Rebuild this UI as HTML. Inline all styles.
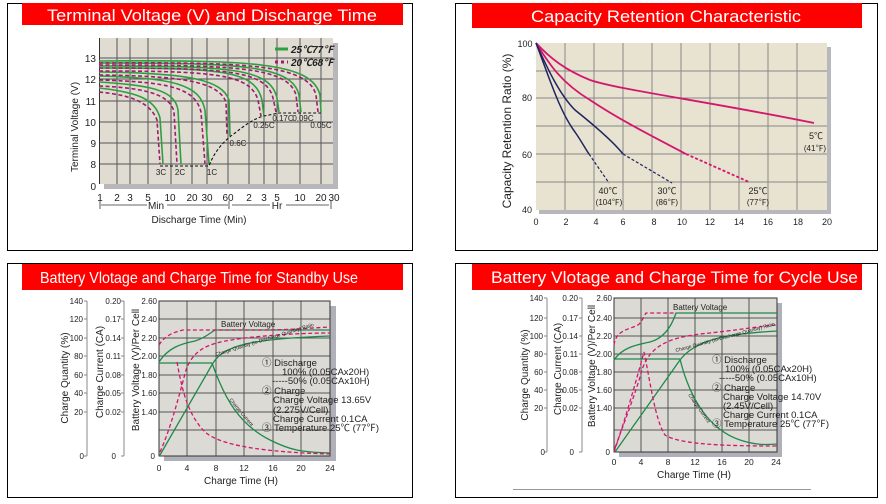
<!DOCTYPE html>
<html><head><meta charset="utf-8"><style>
html,body{margin:0;padding:0;background:#fff;}
svg{display:block;font-family:"Liberation Sans","Noto Sans CJK SC",sans-serif;}
</style></head><body>
<svg width="886" height="504" viewBox="0 0 886 504" xmlns="http://www.w3.org/2000/svg">
<rect width="886" height="504" fill="#fff"/>
<rect x="7.5" y="3.5" width="405" height="247" fill="none" stroke="#000"/>
<rect x="455.5" y="3.5" width="422" height="247" fill="none" stroke="#000"/>
<rect x="7.5" y="263.5" width="405" height="234" fill="none" stroke="#000"/>
<rect x="455.5" y="263.5" width="422" height="234" fill="none" stroke="#000"/>
<line x1="513" y1="489.5" x2="811" y2="489.5" stroke="#999"/>
<!-- Titles -->
<rect x="22" y="3" width="381" height="22" fill="#f00"/>
<text x="47" y="21" fill="#fff" font-size="17" textLength="330" lengthAdjust="spacingAndGlyphs">Terminal Voltage (V) and Discharge Time</text>
<rect x="472" y="3" width="390" height="25" fill="#f00"/>
<text x="531" y="22" fill="#fff" font-size="17" textLength="270" lengthAdjust="spacingAndGlyphs">Capacity Retention Characteristic</text>
<rect x="22" y="264" width="381" height="26" fill="#f00"/>
<text x="40" y="283" fill="#fff" font-size="16" textLength="318" lengthAdjust="spacingAndGlyphs">Battery Vlotage and Charge Time for Standby Use</text>
<rect x="472" y="264" width="390" height="26" fill="#f00"/>
<text x="491" y="283" fill="#fff" font-size="17" textLength="367" lengthAdjust="spacingAndGlyphs">Battery Vlotage and Charge Time for Cycle Use</text>

<!-- ============ Panel 1 ============ -->
<rect x="104" y="43" width="234" height="146" fill="#b8b8bc"/>
<rect x="99" y="38" width="234" height="146" fill="#e0dcd2"/>
<g stroke="#555" stroke-width="1">
<line x1="117" y1="38" x2="117" y2="184"/><line x1="130" y1="38" x2="130" y2="184"/><line x1="148" y1="38" x2="148" y2="184"/>
<line x1="171" y1="38" x2="171" y2="184"/><line x1="192" y1="38" x2="192" y2="184"/><line x1="207" y1="38" x2="207" y2="184"/>
<line x1="228" y1="38" x2="228" y2="184"/><line x1="249" y1="38" x2="249" y2="184"/><line x1="264" y1="38" x2="264" y2="184"/>
<line x1="277" y1="38" x2="277" y2="184"/><line x1="300" y1="38" x2="300" y2="184"/><line x1="321" y1="38" x2="321" y2="184"/>
<line x1="99" y1="58" x2="333" y2="58"/><line x1="99" y1="79" x2="333" y2="79"/><line x1="99" y1="101" x2="333" y2="101"/>
<line x1="99" y1="122" x2="333" y2="122"/><line x1="99" y1="143" x2="333" y2="143"/><line x1="99" y1="164" x2="333" y2="164"/>
</g>
<line x1="99.5" y1="38" x2="99.5" y2="184" stroke="#333"/>
<g font-size="10" fill="#222" text-anchor="end">
<text x="96" y="62">13</text><text x="96" y="83">12</text><text x="96" y="105">11</text><text x="96" y="126">10</text><text x="96" y="147">9</text><text x="96" y="168">8</text><text x="96" y="190">0</text>
</g>
<text x="0" y="0" font-size="10" fill="#222" text-anchor="middle" transform="translate(78,127) rotate(-90)">Terminal Voltage (V)</text>
<g font-size="10" fill="#222" text-anchor="middle">
<text x="100" y="201">1</text><text x="117" y="201">2</text><text x="130" y="201">3</text><text x="148" y="201">5</text><text x="170" y="201">10</text><text x="192" y="201">20</text><text x="207" y="201">30</text><text x="228" y="201">60</text><text x="249" y="201">2</text><text x="264" y="201">3</text><text x="277" y="201">5</text><text x="300" y="201">10</text><text x="321" y="201">20</text><text x="334" y="201">30</text>
<text x="156" y="209">Min</text><text x="277" y="209">Hr</text>
<text x="199" y="223">Discharge Time (Min)</text>
</g>
<g stroke="#333" stroke-width="0.8"><line x1="101" y1="205" x2="147" y2="205"/><line x1="167" y1="205" x2="228" y2="205"/><line x1="232" y1="205" x2="270" y2="205"/><line x1="286" y1="205" x2="329" y2="205"/>
<line x1="100" y1="201" x2="100" y2="209"/><line x1="229" y1="201" x2="229" y2="209"/><line x1="331" y1="201" x2="331" y2="209"/></g>
<g fill="none" stroke-width="1.6">
<g stroke="#2ea040">
<path d="M99 88 C135 92,155 98,160 118 L163 164"/>
<path d="M99 82 C150 85,175 90,178 110 L181 164"/>
<path d="M99 76 C175 78,200 85,205 110 L209 164"/>
<path d="M99 72 C190 73,222 80,229 100 L230 136"/>
<path d="M99 68 C220 68,255 70,262 100 L264 116"/>
<path d="M99 66 C230 66,270 68,277 98 L279 112"/>
<path d="M99 63 C240 63,292 65,299 95 L301 112"/>
<path d="M99 61 C250 60,312 62,320 95 L321 112"/>
</g>
<g stroke="#a01c6c" stroke-dasharray="4,2.5">
<path d="M99 92 C130 95,150 102,157 120 L160 164"/>
<path d="M99 86 C145 88,170 94,174 112 L177 164"/>
<path d="M99 80 C170 82,195 88,201 112 L205 164"/>
<path d="M99 75 C185 76,218 82,226 102 L227 136"/>
<path d="M99 71 C215 71,250 74,258 100 L261 116"/>
<path d="M99 68 C225 68,266 70,273 98 L276 112"/>
<path d="M99 65 C235 65,288 67,296 95 L298 112"/>
<path d="M99 63 C245 62,308 64,316 95 L318 112"/>
</g>
<path d="M160 166 L209 166 C215 150,225 140,235 133 C245 125,255 118,264 116 L279 113 L321 113" stroke="#111" stroke-width="1.1" stroke-dasharray="3,2"/>
</g>
<g font-size="8" fill="#222" text-anchor="middle">
<text x="161" y="175">3C</text><text x="180" y="175">2C</text><text x="212" y="175">1C</text><text x="238" y="146">0.6C</text>
<text x="264" y="128">0.25C</text><text x="283" y="121">0.17C</text><text x="303" y="121">0.09C</text><text x="321" y="128">0.05C</text>
</g>
<line x1="275" y1="49" x2="288" y2="49" stroke="#2ea040" stroke-width="3"/>
<line x1="275" y1="62" x2="288" y2="62" stroke="#a01c6c" stroke-width="3" stroke-dasharray="3,3"/>
<g font-size="10" fill="#222" font-weight="bold" font-style="italic"><text x="291" y="53">25℃77℉</text><text x="291" y="66">20℃68℉</text></g>

<!-- ============ Panel 2 ============ -->
<rect x="539" y="47" width="292" height="167" fill="#b8b8bc"/>
<rect x="536" y="43" width="291" height="167" fill="#e8e2d0"/>
<g stroke="#888" stroke-width="1">
<line x1="565" y1="43" x2="565" y2="210"/><line x1="594" y1="43" x2="594" y2="210"/><line x1="623" y1="43" x2="623" y2="210"/><line x1="652" y1="43" x2="652" y2="210"/><line x1="681" y1="43" x2="681" y2="210"/><line x1="710" y1="43" x2="710" y2="210"/><line x1="739" y1="43" x2="739" y2="210"/><line x1="768" y1="43" x2="768" y2="210"/><line x1="797" y1="43" x2="797" y2="210"/>
<line x1="536" y1="71" x2="827" y2="71"/><line x1="536" y1="98" x2="827" y2="98"/><line x1="536" y1="126" x2="827" y2="126"/><line x1="536" y1="154" x2="827" y2="154"/><line x1="536" y1="182" x2="827" y2="182"/>
</g>
<g font-size="9" fill="#222" text-anchor="middle">
<text x="525" y="47">100</text><text x="527" y="101">80</text><text x="527" y="158">60</text><text x="527" y="213">40</text>
<text x="536" y="225">0</text><text x="566" y="225">2</text><text x="596" y="225">4</text><text x="623" y="225">6</text><text x="654" y="225">8</text><text x="682" y="225">10</text><text x="710" y="225">12</text><text x="739" y="225">14</text><text x="768" y="225">16</text><text x="798" y="225">18</text><text x="827" y="225">20</text>
</g>
<text x="0" y="0" font-size="12" fill="#222" text-anchor="middle" transform="translate(511,131) rotate(-90)">Capacity Retention Ratio (%)</text>
<g fill="none" stroke-width="1.8">
<path d="M536 43 C550 58,565 70,590 80 C620 90,700 100,814 123" stroke="#d4166e"/>
<path d="M536 43 C548 62,560 82,590 100 C620 120,650 135,686 154" stroke="#d4166e"/>
<path d="M686 154 L749 182" stroke="#d4166e" stroke-dasharray="3,2"/>
<path d="M536 43 C548 70,560 95,575 110 C590 122,612 140,623 154" stroke="#1e2460" stroke-width="1.5"/>
<path d="M623 154 L672 183" stroke="#1e2460" stroke-width="1.2" stroke-dasharray="3,2"/>
<path d="M536 43 C550 80,560 112,575 132 C582 142,586 150,589 154" stroke="#1e2460" stroke-width="1.5"/>
<path d="M589 154 L609 183" stroke="#1e2460" stroke-width="1.2" stroke-dasharray="3,2"/>
</g>
<g font-size="9" fill="#222" text-anchor="middle">
<text x="816" y="139">5℃</text><text x="815" y="151" font-size="8">(41℉)</text>
<text x="608" y="194">40℃</text><text x="609" y="205" font-size="8">(104℉)</text>
<text x="667" y="194">30℃</text><text x="667" y="205" font-size="8">(86℉)</text>
<text x="758" y="194">25℃</text><text x="758" y="205" font-size="8">(77℉)</text>
</g>

<!-- ============ Panel 3 ============ -->
<rect x="164" y="306" width="172" height="155" fill="#b0b0b8"/>
<rect x="159" y="301" width="171" height="155" fill="#dcdad4"/>
<g stroke="#555" stroke-width="1">
<line x1="187" y1="301" x2="187" y2="456"/><line x1="216" y1="301" x2="216" y2="456"/><line x1="244" y1="301" x2="244" y2="456"/><line x1="273" y1="301" x2="273" y2="456"/><line x1="301" y1="301" x2="301" y2="456"/>
<line x1="159" y1="319" x2="330" y2="319"/><line x1="159" y1="338" x2="330" y2="338"/><line x1="159" y1="356" x2="330" y2="356"/><line x1="159" y1="375" x2="330" y2="375"/><line x1="159" y1="393" x2="330" y2="393"/><line x1="159" y1="412" x2="330" y2="412"/><line x1="159" y1="430" x2="330" y2="430"/>
</g>
<rect x="159" y="301" width="171" height="155" fill="none" stroke="#333"/>
<g stroke="#888"><line x1="87" y1="301" x2="87" y2="456"/><line x1="124" y1="301" x2="124" y2="456"/>
<path d="M84 301H87M84 319H87M84 338H87M84 356H87M84 375H87M84 393H87M84 412H87M84 456H87M121 301H124M121 319H124M121 338H124M121 356H124M121 375H124M121 393H124M121 412H124M121 456H124"/></g>
<g font-size="8" fill="#222" text-anchor="end">
<text x="83" y="304">140</text><text x="83" y="322">120</text><text x="83" y="341">100</text><text x="83" y="359">80</text><text x="83" y="378">60</text><text x="83" y="396">40</text><text x="83" y="415">20</text><text x="84" y="459">0</text>
<text x="121" y="304">0.20</text><text x="121" y="322">0.17</text><text x="121" y="341">0.14</text><text x="121" y="359">0.11</text><text x="121" y="378">0.08</text><text x="121" y="396">0.05</text><text x="121" y="415">0.02</text><text x="116" y="459">0</text>
<text x="157" y="304">2.60</text><text x="157" y="322">2.40</text><text x="157" y="341">2.20</text><text x="157" y="359">2.00</text><text x="157" y="378">1.80</text><text x="157" y="396">1.60</text><text x="157" y="415">1.40</text><text x="155" y="459">0</text>
</g>
<g font-size="10" fill="#222" text-anchor="middle">
<text transform="translate(68,378) rotate(-90)">Charge Quantity (%)</text>
<text transform="translate(103,372) rotate(-90)">Charge Current (CA)</text>
<text transform="translate(139,370) rotate(-90)">Battery Voltage (V)/Per Cell</text>
</g>
<g font-size="8.5" fill="#222" text-anchor="middle">
<text x="159" y="471">0</text><text x="187" y="471">4</text><text x="216" y="471">8</text><text x="244" y="471">12</text><text x="273" y="471">16</text><text x="301" y="471">20</text><text x="330" y="471">24</text>
</g>
<text x="241" y="484" font-size="10" fill="#222" text-anchor="middle">Charge Time (H)</text>
<g fill="none" stroke-width="1.3">
<g stroke="#1e8a4a">
<path d="M159 362 C168 348,180 344,195 341 C205 338,210 333,215 330 L330 330"/>
<path d="M159 363 L212 363"/>
<path d="M160 455 L213 363 C225 345,250 339,330 336"/>
<path d="M212 363 C225 400,240 425,270 440 C290 450,300 452,330 453"/>
</g>
<g stroke="#d4166e" stroke-dasharray="4,2.5">
<path d="M159 345 C165 335,175 332,183 330 L260 330 C290 330,310 328,330 327"/>
<path d="M160 452 C170 430,178 400,186 370 C195 345,215 342,245 338 C280 334,310 333,330 333"/>
<path d="M177 362 C182 390,188 415,205 432 C220 445,260 452,330 454"/>
</g>
</g>
<g font-size="8" fill="#222"><text x="221" y="327">Battery Voltage</text></g>
<text font-size="5" fill="#222" transform="translate(216,356) rotate(-17)">Charge Quantity (to-Discharge Quantity) Ratio</text>
<text font-size="5" fill="#222" transform="translate(229,400) rotate(50)">Charge Current</text>
<g font-size="9.5" fill="#222">
<text x="262" y="366">① Discharge</text><text x="282" y="375">100% (0.05CAx20H)</text><text x="272" y="384">-----50% (0.05CAx10H)</text>
<text x="262" y="394">② Charge</text><text x="273" y="403">Charge Voltage 13.65V</text><text x="273" y="413">(2.275V/Cell)</text><text x="273" y="422">Charge Current 0.1CA</text><text x="262" y="431">③ Temperature 25℃ (77℉)</text>
</g>

<!-- ============ Panel 4 ============ -->
<rect x="619" y="303" width="163" height="154" fill="#b0b0b8"/>
<rect x="614" y="298" width="163" height="154" fill="#dcdad4"/>
<g stroke="#555" stroke-width="1">
<line x1="641" y1="298" x2="641" y2="452"/><line x1="668" y1="298" x2="668" y2="452"/><line x1="695" y1="298" x2="695" y2="452"/><line x1="722" y1="298" x2="722" y2="452"/><line x1="749" y1="298" x2="749" y2="452"/>
<line x1="614" y1="318" x2="777" y2="318"/><line x1="614" y1="336" x2="777" y2="336"/><line x1="614" y1="354" x2="777" y2="354"/><line x1="614" y1="372" x2="777" y2="372"/><line x1="614" y1="390" x2="777" y2="390"/><line x1="614" y1="408" x2="777" y2="408"/><line x1="614" y1="430" x2="777" y2="430"/>
</g>
<rect x="614" y="298" width="163" height="154" fill="none" stroke="#333"/>
<g stroke="#888"><line x1="547" y1="298" x2="547" y2="452"/><line x1="582" y1="298" x2="582" y2="452"/>
<path d="M544 298H547M544 318H547M544 336H547M544 354H547M544 372H547M544 390H547M544 408H547M544 452H547M579 298H582M579 318H582M579 336H582M579 354H582M579 372H582M579 390H582M579 408H582M579 452H582"/></g>
<g font-size="8" fill="#222" text-anchor="end">
<text x="543" y="301">140</text><text x="543" y="321">120</text><text x="543" y="339">100</text><text x="543" y="357">80</text><text x="543" y="375">60</text><text x="543" y="393">40</text><text x="543" y="411">20</text><text x="545" y="455">0</text>
<text x="578" y="301">0.20</text><text x="578" y="321">0.17</text><text x="578" y="339">0.14</text><text x="578" y="357">0.11</text><text x="578" y="375">0.08</text><text x="578" y="393">0.05</text><text x="578" y="411">0.02</text><text x="574" y="455">0</text>
<text x="612" y="301">2.60</text><text x="612" y="321">2.40</text><text x="612" y="339">2.20</text><text x="612" y="357">2.00</text><text x="612" y="375">1.80</text><text x="612" y="393">1.60</text><text x="612" y="411">1.40</text><text x="610" y="455">0</text>
</g>
<g font-size="10" fill="#222" text-anchor="middle">
<text transform="translate(528,375) rotate(-90)">Charge Quantity (%)</text>
<text transform="translate(561,369) rotate(-90)">Charge Current (CA)</text>
<text transform="translate(595,366) rotate(-90)">Battery Voltage (V)/Per Cell</text>
</g>
<g font-size="8.5" fill="#222" text-anchor="middle">
<text x="614" y="465">0</text><text x="641" y="465">4</text><text x="668" y="465">8</text><text x="695" y="465">12</text><text x="722" y="465">16</text><text x="749" y="465">20</text><text x="776" y="465">24</text>
</g>
<text x="694" y="478" font-size="10" fill="#222" text-anchor="middle">Charge Time (H)</text>
<g fill="none" stroke-width="1.3">
<g stroke="#1e8a4a">
<path d="M614 360 C622 348,635 345,650 342 C665 338,672 325,676 313 L777 313"/>
<path d="M614 359 L680 359"/>
<path d="M615 452 L680 360 C695 340,725 334,777 331"/>
<path d="M680 359 C690 400,710 430,740 440 C755 445,765 445,777 444"/>
</g>
<g stroke="#d4166e" stroke-dasharray="4,2.5">
<path d="M614 345 C616 330,628 330,638 325 C642 322,644 316,646 313 L676 313"/>
<path d="M615 448 C625 420,635 395,642 370 C650 345,670 338,700 334 C740 330,760 326,777 325"/>
<path d="M614 452 C625 420,635 385,644 352 C650 380,655 420,665 435 C680 445,730 446,777 446"/>
</g>
</g>
<text x="673" y="310" font-size="8" fill="#222">Battery Voltage</text>
<text font-size="5" fill="#222" transform="translate(676,352) rotate(-15)">Charge Quantity (to-Discharge Quantity) Ratio</text>
<text font-size="5" fill="#222" transform="translate(688,395) rotate(55)">Charge Current</text>
<g font-size="9.5" fill="#222">
<text x="712" y="363">① Discharge</text><text x="725" y="372">100% (0.05CAx20H)</text><text x="719" y="381">-----50% (0.05CAx10H)</text>
<text x="712" y="391">② Charge</text><text x="723" y="400">Charge Voltage 14.70V</text><text x="723" y="409">(2.45V/Cell)</text><text x="723" y="418">Charge Current 0.1CA</text><text x="712" y="427">③ Temperature 25℃ (77℉)</text>
</g>
</svg>
</body></html>
